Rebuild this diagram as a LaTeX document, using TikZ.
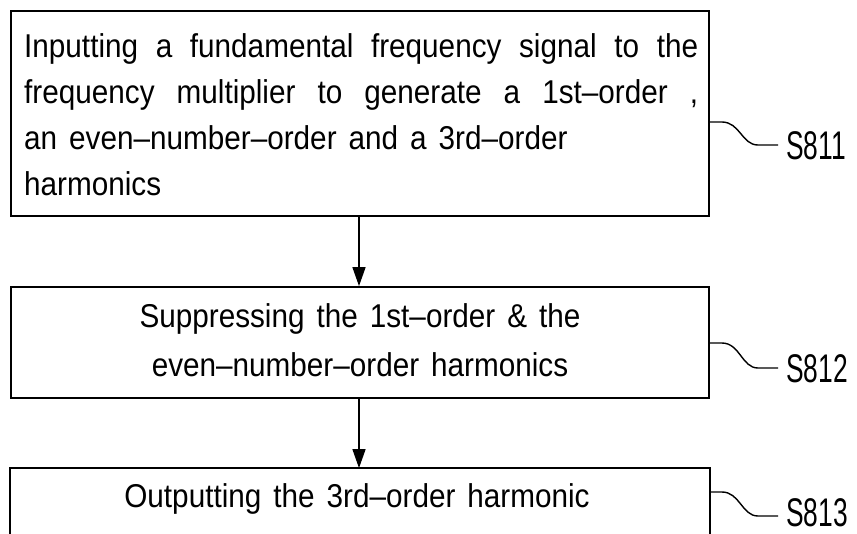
\documentclass[tikz,border=0pt]{standalone}
\usepackage{fontspec}
\setmainfont{Liberation Sans}[Ligatures=TeX, FakeStretch=0.9]
\newfontfamily\labfont{Liberation Sans}[FakeStretch=0.66]
\usetikzlibrary{arrows.meta}
\newcommand\bodyfnt{\fontsize{33}{46}\selectfont\spaceskip=12pt plus 4pt\relax}
\newcommand\labfnt{\labfont\fontsize{40}{40}\selectfont}
\newcommand\fullline[1]{\makebox[674pt][s]{\spaceskip=12pt plus 1fil\relax #1}}
\tikzset{
  stepbox/.style={draw=black, line width=1.8pt, minimum width=698pt, inner sep=0pt},
  boxtext/.style={font=\bodyfnt, inner sep=0pt},
  flow/.style={draw=black, line width=1.5pt, -{Triangle[length=19pt, width=13pt]}},
  lead/.style={draw=black, line width=1.4pt},
  steplabel/.style={font=\labfnt, anchor=base west, inner sep=0pt}
}
\begin{document}
\begin{tikzpicture}[x=1pt, y=-1pt]
\useasboundingbox (0,0) rectangle (857,534);
% boxes
\node[stepbox, minimum height=205pt] (s1) at (360,113.5) {};
\node[stepbox, minimum height=111pt] (s2) at (360,342.5) {};
\node[stepbox, draw=none, minimum height=70pt] (s3) at (360,504) {};
\draw[line width=1.8pt] ([yshift=-30pt]s3.south west) -- (s3.north west) -- (s3.north east) -- ([yshift=-30pt]s3.south east);
% texts
\node[boxtext, anchor=base west] (t11) at (24,58) {\fullline{Inputting a fundamental frequency signal to the}};
\node[boxtext, anchor=base west] (t12) at (24,104) {\fullline{frequency multiplier to generate a 1st--order ,}};
\node[boxtext, anchor=base west] (t13) at (24,150) {an even--number--order and a 3rd--order};
\node[boxtext, anchor=base west] (t14) at (24,196) {harmonics};
\node[boxtext, anchor=base] (t21) at (360,328) {Suppressing the 1st--order \& the};
\node[boxtext, anchor=base] (t22) at (360,377) {even--number--order harmonics};
\node[boxtext, anchor=base] (t31) at (357,507) {Outputting the 3rd--order harmonic};
% arrows
\draw[flow] (s1.south -| 359,0) -- (s2.north -| 359,0);
\draw[flow] (s2.south -| 359,0) -- (s3.north -| 359,0);
% leaders
\coordinate (a1) at (s1.east |- 0,122);
\coordinate (b1) at (778,145);
\draw[lead] (a1) -- ++(12,0) .. controls ++(18,0) and ++(-16,0) .. ++(36,23) -- (b1);
\node[steplabel] (l1) at (786,160) {S811};
\coordinate (a2) at (s2.east |- 0,343);
\coordinate (b2) at (778,368);
\draw[lead] (a2) -- ++(12,0) .. controls ++(18,0) and ++(-16,0) .. ++(36,25) -- (b2);
\node[steplabel] (l2) at (786,383) {S812};
\coordinate (a3) at (s3.east |- 0,492);
\coordinate (b3) at (778,516);
\draw[lead] (a3) -- ++(12,0) .. controls ++(18,0) and ++(-16,0) .. ++(36,24) -- (b3);
\node[steplabel] (l3) at (786,526) {S813};
\end{tikzpicture}
\end{document}
